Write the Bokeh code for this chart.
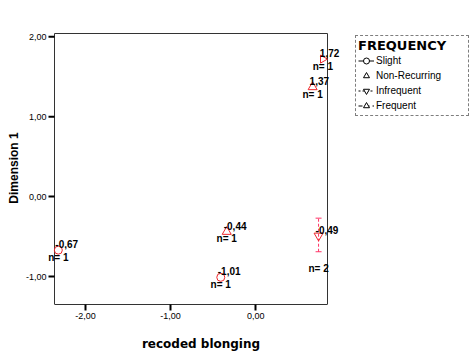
import numpy as np
from bokeh.plotting import figure
from bokeh.models import (ColumnDataSource, FixedTicker, CustomJSTickFormatter, Legend,
                          LegendItem, Whisker, TeeHead, Range1d)
from bokeh.core.properties import value
from bokeh.embed import file_html
from bokeh.resources import INLINE

# ---------------- data ----------------
categories = ["Slight", "Non-Recurring", "Infrequent", "Frequent"]
point_category = ["Slight", "Slight", "Non-Recurring", "Non-Recurring", "Infrequent", "Frequent"]
recoded_blonging = [-2.32, -0.41, -0.34, 0.67, 0.74, 0.79]
dimension_1 = [-0.67, -1.01, -0.44, 1.37, -0.49, 1.72]
n_cases = [1, 1, 1, 1, 2, 1]
err_lower = [None, None, None, None, -0.69, None]
err_upper = [None, None, None, None, -0.27, None]
x_ticks = [-2, -1, 0]
y_ticks = [-1, 0, 1, 2]
x_limits = (-2.365, 0.845)
y_limits = (-1.35, 2.04)

# ---------------- layout (pixels) ----------------
BOX_W, BOX_H = 273, 271          # visible plot box
PAD_L, PAD_R, PAD_T = 8, 28, 2   # frame extends beyond box so labels are not clipped
TICK = 6
kx = (x_limits[1] - x_limits[0]) / BOX_W
ky = (y_limits[1] - y_limits[0]) / BOX_H

RED = "#f0282d"
ERR = "#ff3366"
BOX = "#333333"
marker_style = {
    "Slight": dict(marker="circle", size=8, angle=0.0),
    "Non-Recurring": dict(marker="triangle", size=9, angle=0.0),
    "Infrequent": dict(marker="inverted_triangle", size=9, angle=0.0),
    "Frequent": dict(marker="triangle", size=8, angle=-np.pi / 2),
}
legend_line = {"Slight": "solid", "Non-Recurring": None, "Infrequent": "2 2", "Frequent": "4 3"}

p = figure(frame_width=BOX_W + PAD_L + PAD_R, frame_height=BOX_H + PAD_T,
           x_range=Range1d(x_limits[0] - PAD_L * kx, x_limits[1] + PAD_R * kx),
           y_range=Range1d(y_limits[0], y_limits[1] + PAD_T * ky),
           output_backend="svg", toolbar_location=None,
           min_border_left=54 - PAD_L, min_border_right=113, min_border_top=31, min_border_bottom=49,
           background_fill_color="white", border_fill_color="white")
p.xgrid.visible = False
p.ygrid.visible = False
p.outline_line_color = None

fmt = CustomJSTickFormatter(code="return tick.toFixed(2).replace('.', ',');")
p.xaxis.ticker = FixedTicker(ticks=x_ticks)
p.yaxis.ticker = FixedTicker(ticks=y_ticks)
p.xaxis.formatter = fmt
p.yaxis.formatter = fmt
p.xaxis.bounds = x_limits
for ax in (p.xaxis[0], p.yaxis[0]):
    ax.major_tick_in = 0
    ax.major_tick_out = TICK
    ax.major_tick_line_width = 2
    ax.major_tick_line_color = "black"
    ax.minor_tick_line_color = None
    ax.axis_line_color = BOX
    ax.major_label_text_font = "Liberation Sans"
    ax.major_label_text_font_size = "9px"
    ax.major_label_text_color = "black"
    ax.major_label_standoff = 2
    ax.axis_label_text_font_style = "bold"
    ax.axis_label_text_font_size = "12px"
    ax.axis_label_text_color = "black"

p.xaxis.axis_label = "recoded blonging"
p.xaxis.axis_label_text_font = "DejaVu Sans"
p.xaxis.axis_label_standoff = 15

# y axis sits at the frame edge, PAD_L left of the box: its line and ticks are drawn at the box
p.yaxis.axis_line_color = None
p.yaxis.major_tick_line_color = None
p.yaxis.major_tick_out = 0
p.yaxis.major_label_standoff = 0
p.yaxis.axis_label = "Dimension 1"
p.yaxis.axis_label_text_font = "Liberation Sans"
p.yaxis.axis_label_standoff = 2

# box edges (left, top, right) and the y ticks at the box's left edge
p.segment(x0=[x_limits[0], x_limits[0], x_limits[1]], y0=[y_limits[0], y_limits[1], y_limits[0]],
          x1=[x_limits[0], x_limits[1], x_limits[1]], y1=[y_limits[1], y_limits[1], y_limits[1]],
          line_color=BOX, line_width=1)
p.segment(x0=[x_limits[0] - TICK * kx] * len(y_ticks), x1=[x_limits[0]] * len(y_ticks),
          y0=y_ticks, y1=y_ticks, line_color="black", line_width=2)

# error bars
err_idx = [i for i, lo in enumerate(err_lower) if lo is not None]
err_src = ColumnDataSource(dict(
    x=[recoded_blonging[i] for i in err_idx],
    lower=[err_lower[i] for i in err_idx],
    upper=[err_upper[i] for i in err_idx],
))
p.add_layout(Whisker(source=err_src, base="x", lower="lower", upper="upper", dimension="height",
                     line_color=ERR, line_width=1, line_dash="3 2",
                     upper_head=TeeHead(size=6, line_color=ERR, line_width=1),
                     lower_head=TeeHead(size=6, line_color=ERR, line_width=1)))

# markers per category
for cat in categories:
    idx = [i for i, c in enumerate(point_category) if c == cat]
    st = marker_style[cat]
    p.scatter([recoded_blonging[i] for i in idx], [dimension_1[i] for i in idx],
              marker=st["marker"], size=st["size"], angle=st["angle"],
              line_color=RED, line_width=1, fill_color=None)

# value labels
lab_src = ColumnDataSource(dict(
    x=recoded_blonging, y=dimension_1,
    label=[f"{v:.2f}".replace(".", ",") for v in dimension_1],
))
p.text(x="x", y="y", text="label", source=lab_src,
       text_font=value("Liberation Sans"), text_font_style="bold", text_font_size="10px",
       text_align="left", text_baseline="middle", x_offset=-3, y_offset=-6, text_color="black")

# n labels
single = [i for i in range(len(n_cases)) if err_lower[i] is None]
n_src1 = ColumnDataSource(dict(
    x=[recoded_blonging[i] for i in single], y=[dimension_1[i] for i in single],
    label=[f"n= {n_cases[i]}" for i in single]))
n_src2 = ColumnDataSource(dict(
    x=[recoded_blonging[i] for i in err_idx], y=[err_lower[i] for i in err_idx],
    label=[f"n= {n_cases[i]}" for i in err_idx]))
for src, off in ((n_src1, 7), (n_src2, 17)):
    p.text(x="x", y="y", text="label", source=src,
           text_font=value("Liberation Sans"), text_font_style="bold", text_font_size="10px",
           text_align="center", text_baseline="middle", y_offset=off, text_color="black")

# legend (off-screen renderers drawn in black)
nan = np.array([np.nan])
items = []
for cat in categories:
    rs = []
    if legend_line[cat] is not None:
        rs.append(p.line(nan, nan, line_color="black", line_width=1, line_dash=legend_line[cat]))
    st = marker_style[cat]
    rs.append(p.scatter(nan, nan, marker=st["marker"], size=st["size"], angle=st["angle"],
                        line_color="black", line_width=1, fill_color="white"))
    items.append(LegendItem(label=cat, renderers=rs))

legend = Legend(items=items, location=(0, 188), title="FREQUENCY",
                title_text_font="DejaVu Sans", title_text_font_style="bold",
                title_text_font_size="13px", title_standoff=0, title_text_color="black",
                label_text_font="Liberation Sans", label_text_font_size="10px",
                label_text_color="black",
                border_line_color="black", border_line_dash="1 1", border_line_width=1,
                padding=2, spacing=0, margin=0,
                glyph_width=16, glyph_height=15, label_height=15, label_width=90,
                label_standoff=2, background_fill_color="white", background_fill_alpha=1)
p.add_layout(legend, "right")

open("out.html", "w").write(file_html(p, INLINE))
